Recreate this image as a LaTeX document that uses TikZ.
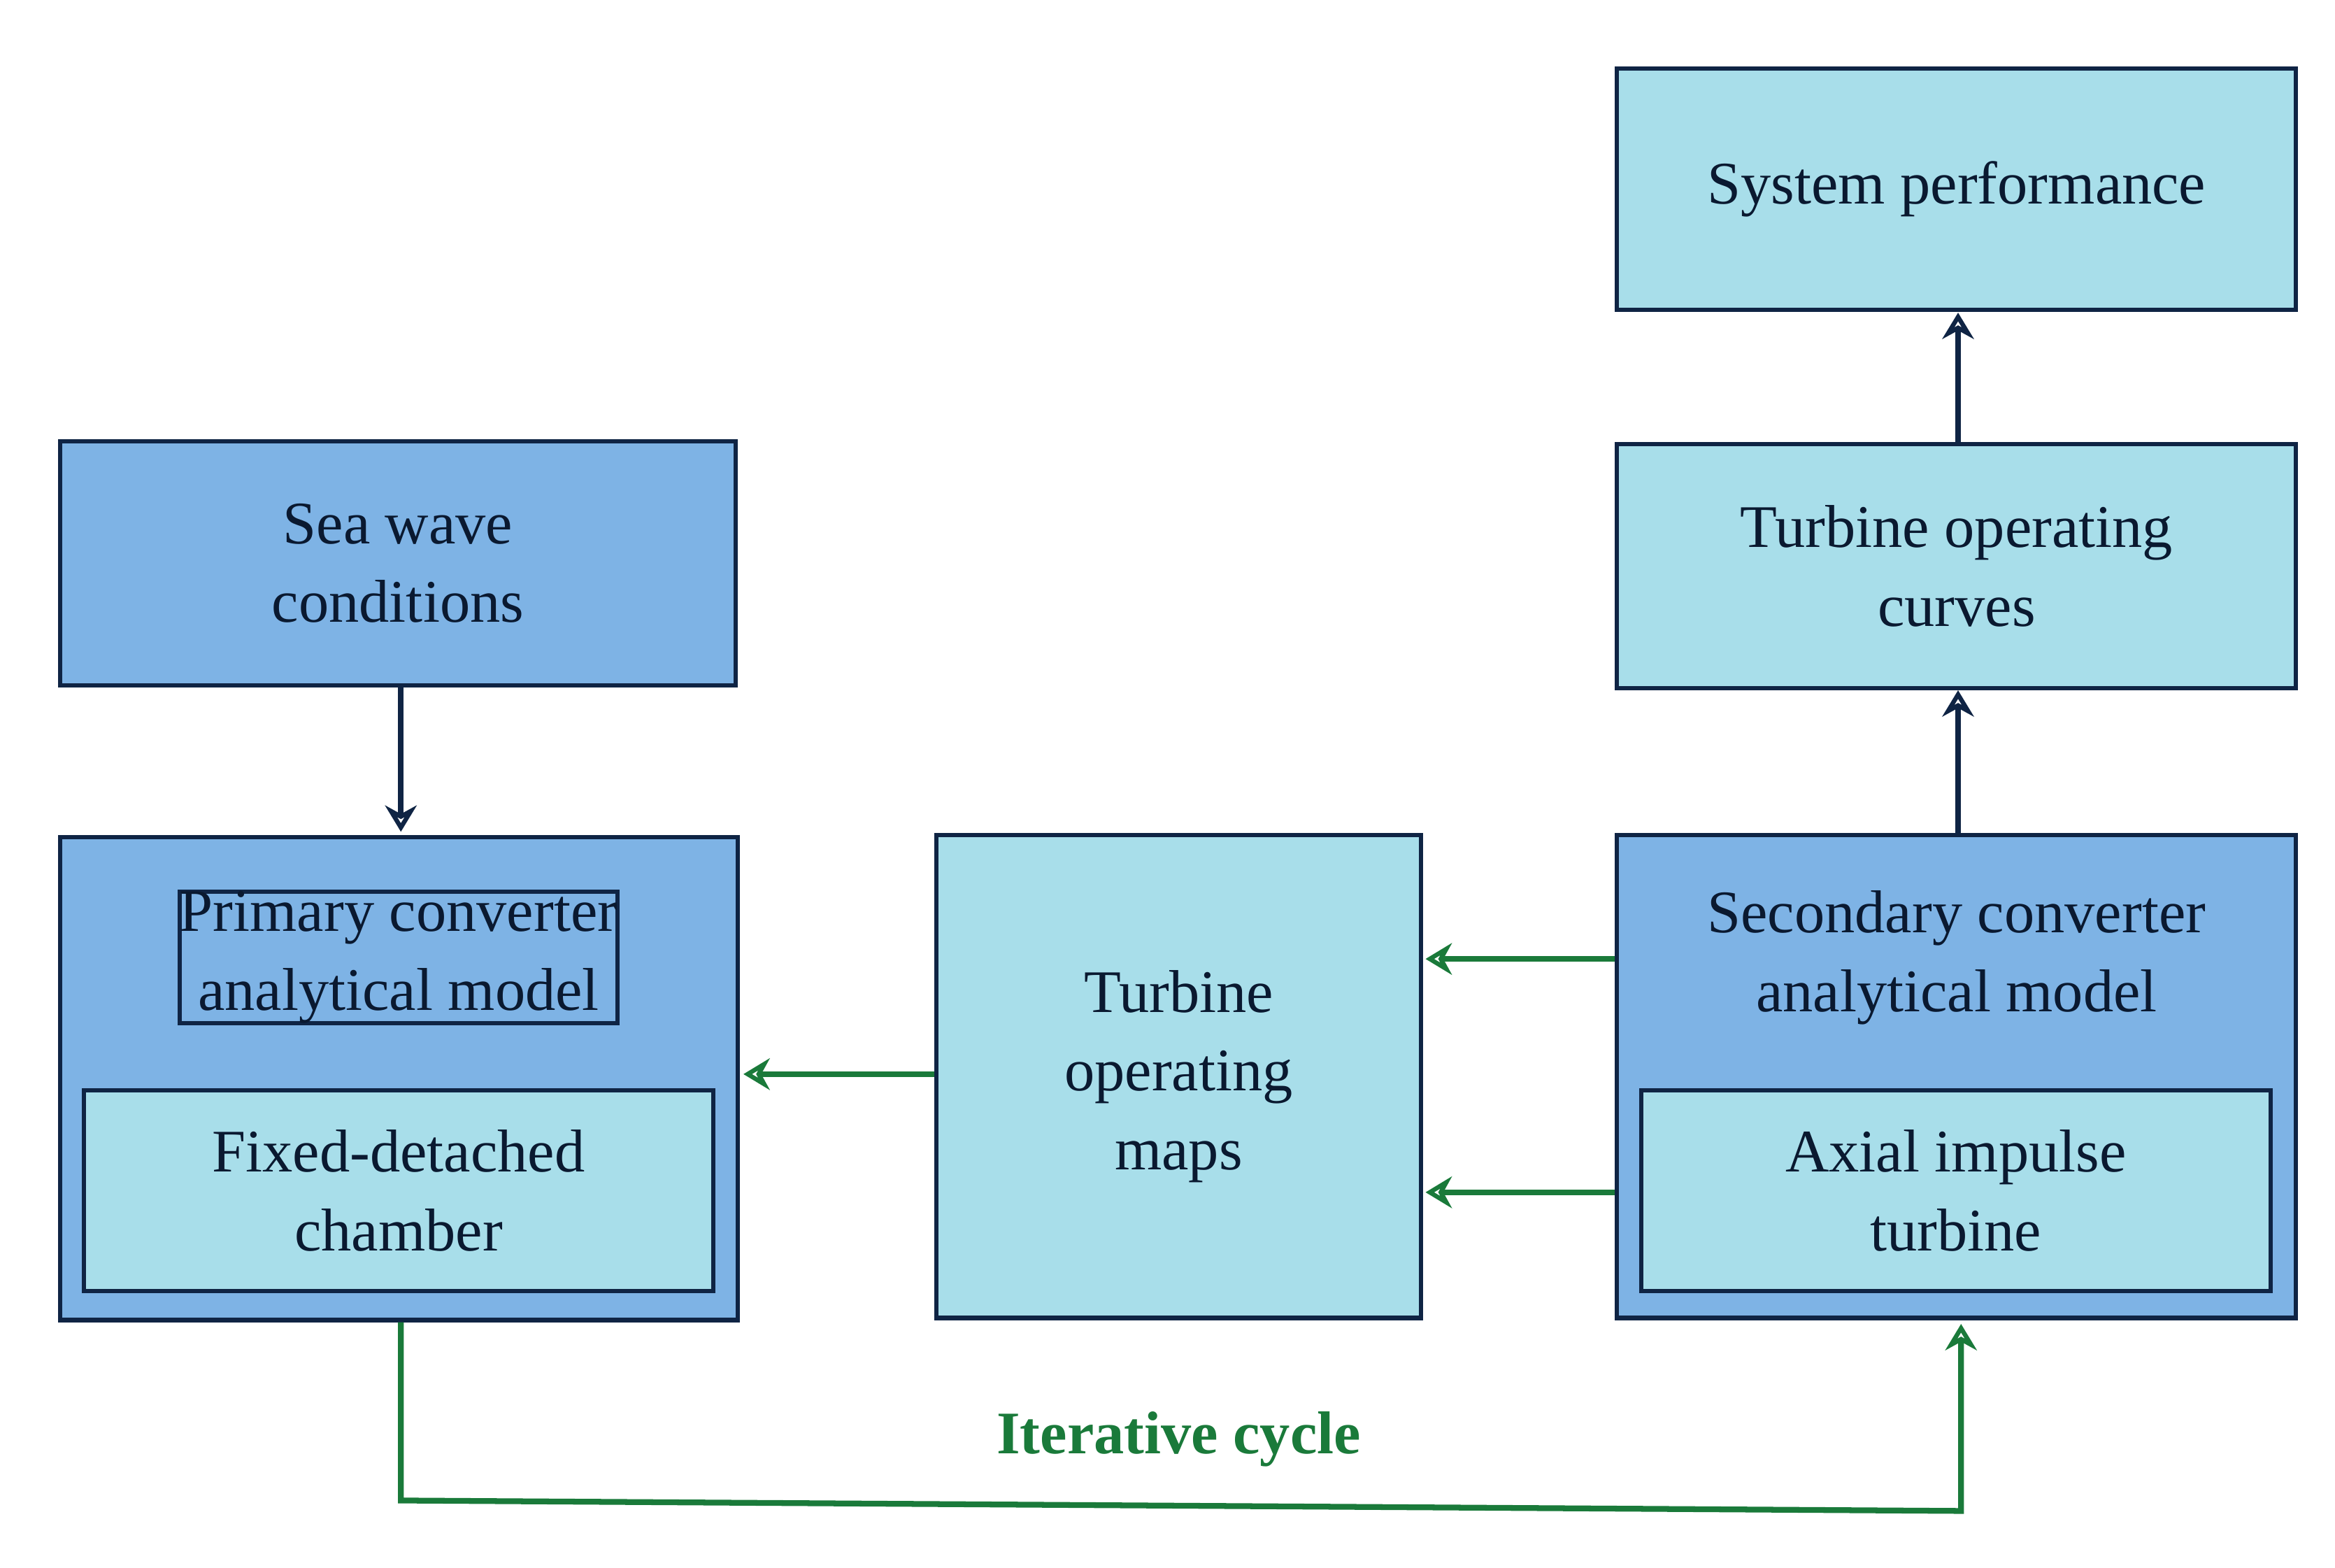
\documentclass[tikz,border=0pt]{standalone}
\usepackage{fontspec}
\setmainfont{Liberation Serif}
\usetikzlibrary{arrows.meta}
\definecolor{dblue}{HTML}{7EB3E5}
\definecolor{lcyan}{HTML}{A8DEEA}
\definecolor{navy}{HTML}{0F2444}
\definecolor{gr}{HTML}{1A7A3A}
\begin{document}
\begin{tikzpicture}[x=0.02cm,y=-0.02cm,
 box/.style={draw=navy,line width=1.6pt,inner sep=0pt,align=center,font=\fontsize{23}{30}\selectfont,text=navy!70!black},
 nav/.style={draw=navy,line width=2.2pt,-{Stealth[open,length=10pt,width=12pt,fill=none]}},
 ga/.style={draw=gr,line width=2.2pt,-{Stealth[open,length=10pt,width=12pt,fill=none]}}]
\useasboundingbox (0,0) rectangle (1561,1048);
\tikzset{B/.style args={#1/#2/#3/#4}{box,minimum width={(#3-#1)*0.02cm},minimum height={(#4-#2)*0.02cm}}}
\node[B=1081/46/1535/207,fill=lcyan] (sys) at (1308,126.5) {System performance};
\node[B=1081/297/1535/460,fill=lcyan] (cur) at (1308,378.5) {Turbine operating\\curves};
\node[B=40/295/492/458,fill=dblue] (sea) at (266,376.5) {Sea wave\\conditions};
\node[B=40/558/493/881,fill=dblue,anchor=north] (pri) at (266.5,558) {};
\node[box,anchor=center] (prit) at (266.5,640) {Primary converter\\analytical model};
\node[B=56/729/477/863,fill=lcyan] (fix) at (266.5,796) {Fixed-detached\\chamber};
\node[B=626/558/950/881,fill=lcyan] (map) at (788,719.5) {Turbine\\operating\\maps};
\node[B=1081/558/1535/881,fill=dblue] (sec) at (1308,719.5) {};
\node[box,draw=none] (sect) at (1308,640) {Secondary converter\\analytical model};
\node[B=1097/729/1518/863,fill=lcyan] (axi) at (1307.5,796) {Axial impulse\\turbine};
\draw[nav] (sea.south -| 268,0) -- (268,556);
\draw[nav] (1309,558) -- (cur.south -| 1309,0) ;
\draw[nav] (cur.north -| 1309,0) -- (1309,209);
\draw[ga] (map.west |- 0,718) -- (497,718);
\draw[ga] (sec.west |- 0,641) -- (953,641);
\draw[ga] (sec.west |- 0,797) -- (953,797);
\coordinate (c1) at (268,1003);
\coordinate (c2) at (1311,1010);
\draw[ga,sharp corners] (pri.south -| 268,0) -- (c1) -- (c2) -- (1311,885);
\node[text=gr,font=\bfseries\fontsize{23}{28}\selectfont] (it) at (788,962) {Iterative cycle};
\end{tikzpicture}
\end{document}
